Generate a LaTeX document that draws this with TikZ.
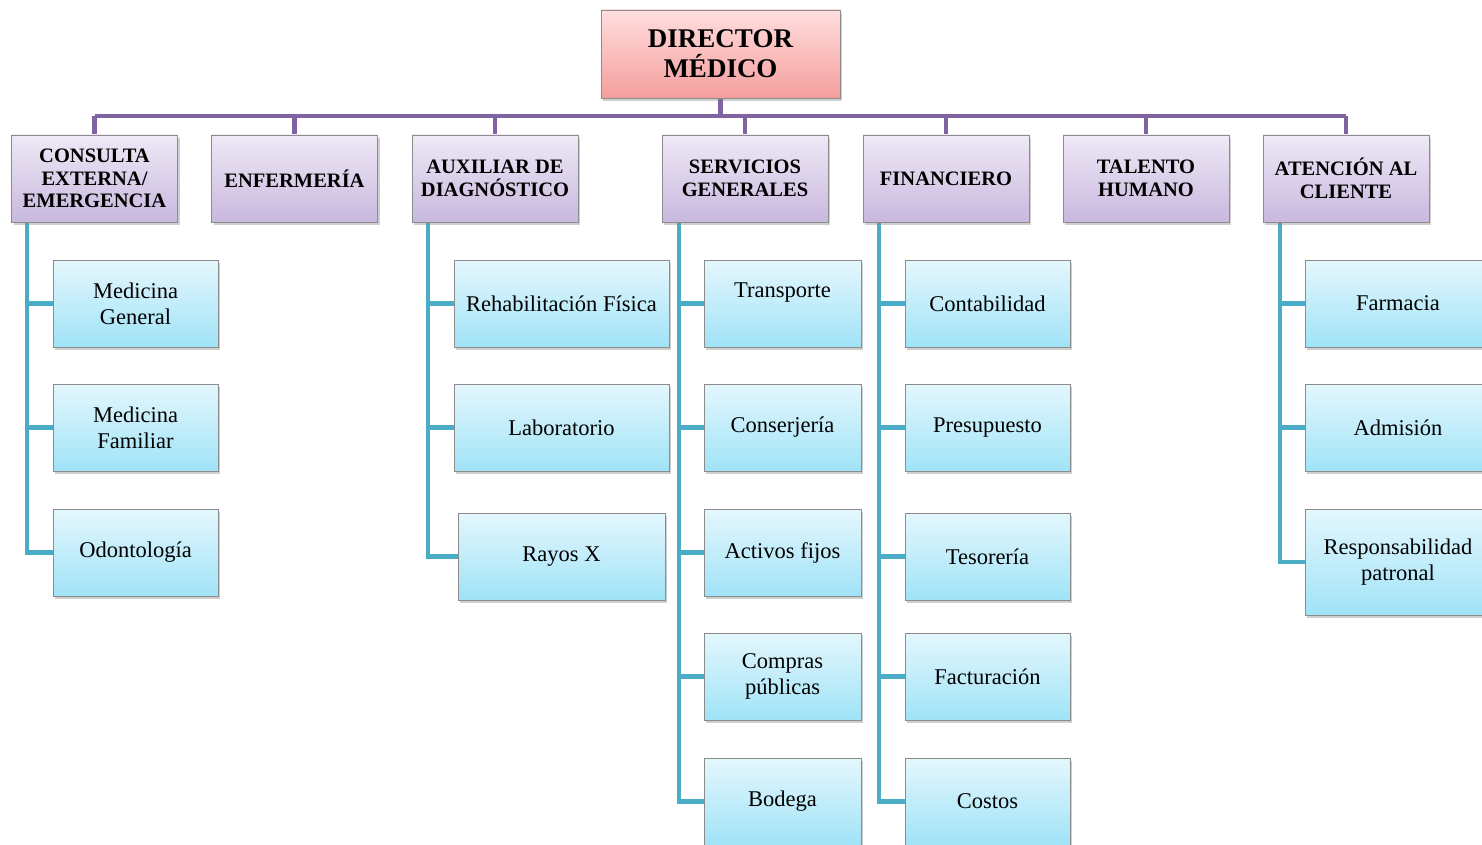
\documentclass[tikz,border=0pt]{standalone}
\usepackage{fontspec}
\setmainfont{Liberation Serif}
\usetikzlibrary{shadows,backgrounds}

\definecolor{busline}{RGB}{128,100,162}
\definecolor{twigline}{RGB}{75,172,198}
\definecolor{bossTop}{RGB}{255,222,222}
\definecolor{bossBot}{RGB}{244,158,156}
\definecolor{areaTop}{RGB}{239,233,246}
\definecolor{areaBot}{RGB}{200,184,222}
\definecolor{unitTop}{RGB}{228,247,253}
\definecolor{unitBot}{RGB}{160,227,247}

\begin{document}
\begin{tikzpicture}[
  x=1pt, y=-1pt,
  box/.style={draw=black!45, line width=0.8pt, inner sep=0pt, align=center,
    drop shadow={opacity=0.38, shadow xshift=2pt, shadow yshift=-3pt}},
  boss/.style={box, top color=bossTop, bottom color=bossBot, minimum width=239pt,
    minimum height=88pt, font=\fontsize{27}{30}\selectfont\bfseries},
  area/.style={box, top color=areaTop, bottom color=areaBot, minimum width=166pt,
    minimum height=87pt, font=\fontsize{20.5}{22.5}\selectfont\bfseries},
  unit/.style={box, top color=unitTop, bottom color=unitBot, minimum width=165pt,
    minimum height=87pt, font=\fontsize{22.5}{26}\selectfont},
  bus/.style={line width=4.2pt, busline},
  twig/.style={line width=4.2pt, twigline}
]
\clip (0,0) rectangle (1482,845);

% === Director ===
\node[boss] (DM) at (720.5,54) {DIRECTOR\\MÉDICO};

% === Areas ===
\node[area] (CE) at (94.5,178.5)  {CONSULTA\\EXTERNA/\\EMERGENCIA};
\node[area] (EN) at (294.5,178.5) {ENFERMERÍA};
\node[area] (AD) at (495,178.5)   {AUXILIAR DE\\DIAGNÓSTICO};
\node[area] (SG) at (745,178.5)   {SERVICIOS\\GENERALES};
\node[area] (FI) at (946,178.5)   {FINANCIERO};
\node[area] (TH) at (1146,178.5)  {TALENTO\\HUMANO};
\node[area] (AC) at (1346,178.5)  {ATENCIÓN AL\\CLIENTE};

% === Consulta externa ===
\node[unit] (CE1) at (135.5,303.5) {Medicina\\General};
\node[unit] (CE2) at (135.5,427.5) {Medicina\\Familiar};
\node[unit] (CE3) at (135.5,552.5) {Odontología};

% === Auxiliar de diagnostico ===
\node[unit, minimum width=215pt] (AD1) at (561.5,303.5) {Rehabilitación Física};
\node[unit, minimum width=215pt] (AD2) at (561.5,427.5) {Laboratorio};
\node[unit, minimum width=207pt] (AD3) at (561.5,556.5) {Rayos X};

% === Servicios generales ===
\node[unit, minimum width=157pt] (SG1) at (782.5,303.5) {Transporte\\\mbox{}};
\node[unit, minimum width=157pt] (SG2) at (782.5,427.5) {Conserjería};
\node[unit, minimum width=157pt] (SG3) at (782.5,552.5) {Activos fijos};
\node[unit, minimum width=157pt] (SG4) at (782.5,676.5) {Compras\\públicas};
\node[unit, minimum width=157pt] (SG5) at (782.5,801.5) {Bodega};

% === Financiero ===
\node[unit] (FI1) at (987.5,303.5) {Contabilidad};
\node[unit] (FI2) at (987.5,427.5) {Presupuesto};
\node[unit] (FI3) at (987.5,556.5) {Tesorería};
\node[unit] (FI4) at (987.5,676.5) {Facturación};
\node[unit] (FI5) at (987.5,801.5) {Costos};

% === Atencion al cliente ===
\node[unit, minimum width=186pt] (AC1) at (1398,303.5) {Farmacia};
\node[unit, minimum width=186pt] (AC2) at (1398,427.5) {Admisión};
\node[unit, minimum width=186pt, minimum height=106pt] (AC3) at (1398,562) {Responsabilidad\\patronal};

% === Connectors ===
\begin{scope}[on background layer]
  \coordinate (bus) at (720.5,116);
  \draw[bus] (DM.south) -- (DM.south |- bus);
  \draw[bus] (CE.north |- bus) -- (AC.north |- bus);
  \foreach \a in {CE,EN,AD,SG,FI,TH,AC}
    \draw[bus] (\a.north) -- (\a.north |- bus);

  % spines
  \coordinate (sCE) at ([xshift=16pt]CE.south west);
  \coordinate (sAD) at ([xshift=16pt]AD.south west);
  \coordinate (sSG) at ([xshift=17pt]SG.south west);
  \coordinate (sFI) at ([xshift=16pt]FI.south west);
  \coordinate (sAC) at ([xshift=17pt]AC.south west);

  \draw[twig] (sCE) |- (CE3.west);
  \foreach \k in {CE1,CE2} \draw[twig] (\k.west) -- (\k.west -| sCE);
  \draw[twig] (sAD) |- (AD3.west);
  \foreach \k in {AD1,AD2} \draw[twig] (\k.west) -- (\k.west -| sAD);
  \draw[twig] (sSG) |- (SG5.west);
  \foreach \k in {SG1,SG2,SG3,SG4} \draw[twig] (\k.west) -- (\k.west -| sSG);
  \draw[twig] (sFI) |- (FI5.west);
  \foreach \k in {FI1,FI2,FI3,FI4} \draw[twig] (\k.west) -- (\k.west -| sFI);
  \draw[twig] (sAC) |- (AC3.west);
  \foreach \k in {AC1,AC2} \draw[twig] (\k.west) -- (\k.west -| sAC);
\end{scope}
\end{tikzpicture}
\end{document}
